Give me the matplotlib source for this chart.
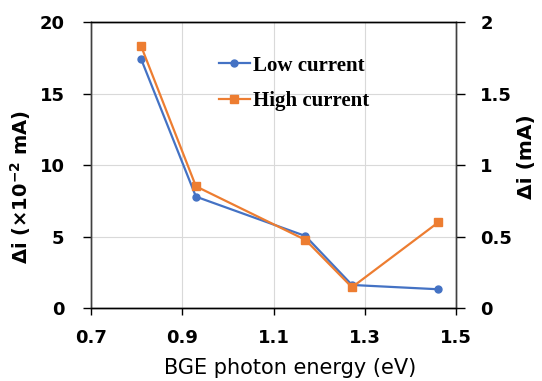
import matplotlib
matplotlib.use("Agg")
import matplotlib.pyplot as plt
from matplotlib.lines import Line2D

energy = [0.81, 0.93, 1.17, 1.272, 1.461]
low_current = [17.4, 7.8, 5.05, 1.63, 1.33]      # x10^-2 mA (left axis)
high_current = [1.83, 0.852, 0.478, 0.147, 0.60]  # mA (right axis)

x_ticks = [0.7, 0.9, 1.1, 1.3, 1.5]
x_ticklabels = ["0.7", "0.9", "1.1", "1.3", "1.5"]
left_ticks = [0, 5, 10, 15, 20]
right_ticks = [0, 0.5, 1, 1.5, 2]
right_ticklabels = ["0", "0.5", "1", "1.5", "2"]

blue = "#4472C4"
orange = "#ED7D31"

fig = plt.figure(figsize=(5.42, 3.81), dpi=100)
ax = fig.add_axes([91/542, 1-308.3/381, (456-91)/542, (308.3-22)/381])
ax2 = ax.twinx()

ax.set_xlim(0.7, 1.5)
ax.set_ylim(0, 20)
ax2.set_ylim(0, 2)

ax.set_xticks(x_ticks)
ax.set_xticklabels(x_ticklabels)
ax.set_yticks(left_ticks)
ax2.set_yticks(right_ticks)
ax2.set_yticklabels(right_ticklabels)

ax.grid(True, color="#D9D9D9", linewidth=0.8)
ax.set_axisbelow(True)

for a in (ax, ax2):
    a.spines["top"].set_color("black")
    a.spines["bottom"].set_color("black")
    a.spines["left"].set_color("#404040")
    a.spines["right"].set_color("#404040")
    for s in a.spines.values():
        s.set_linewidth(1.0)

ax.tick_params(axis="x", direction="out", length=5, width=1.0,
               labelsize=13, pad=10)
ax.tick_params(axis="y", direction="out", length=6, width=1.0,
               labelsize=13, pad=13)
ax2.tick_params(axis="y", direction="out", length=6.5, width=1.0,
                labelsize=13, pad=11)
for lbl in ax.get_xticklabels() + ax.get_yticklabels() + ax2.get_yticklabels():
    lbl.set_fontweight("bold")

ax.plot(energy, low_current, color=blue, marker="o", markersize=5,
        linewidth=1.6, zorder=3)
ax2.plot(energy, high_current, color=orange, marker="s", markersize=5.5,
         linewidth=1.6, zorder=3)

ax.set_xlabel("BGE photon energy (eV)", fontsize=15)
ax.xaxis.set_label_coords(0.545, -0.172)
ax.set_ylabel("Δi (×10$^{\\mathbf{-2}}$ mA)", fontsize=14, fontweight="bold")
ax.yaxis.set_label_coords(-0.16, 0.425)
ax2.set_ylabel("Δi (mA)", fontsize=14.5, fontweight="bold")
ax2.yaxis.set_label_coords(1.168, 0.53)

handles = [Line2D([0], [0], color=blue, marker="o", markersize=5, linewidth=1.6),
           Line2D([0], [0], color=orange, marker="s", markersize=5.5, linewidth=1.6)]
leg = fig.legend(handles, ["Low current", "High current"],
                 loc="upper left", bbox_to_anchor=(200/542, 1-37/381),
                 frameon=False, handlelength=1.5, handletextpad=0.15,
                 labelspacing=0.75,
                 prop={"family": "Liberation Serif", "weight": "bold", "size": 15})

fig.savefig("out.png", dpi=100)
